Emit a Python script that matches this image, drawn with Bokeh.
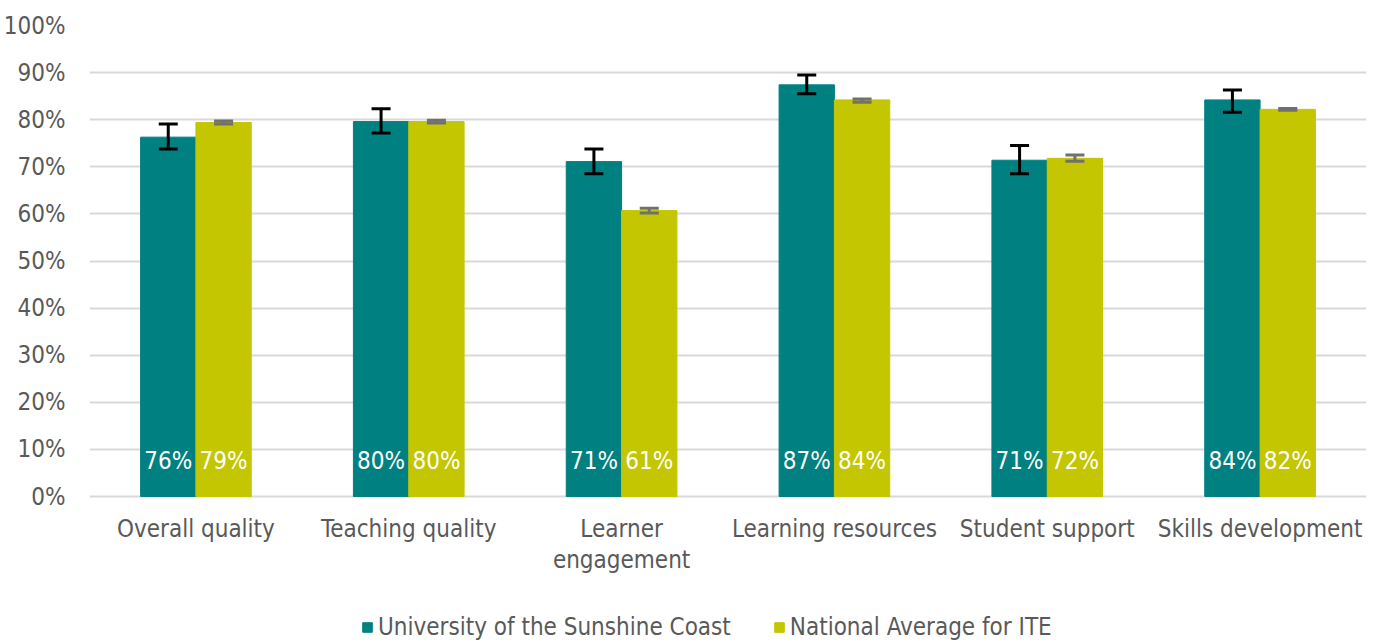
from bokeh.plotting import figure
from bokeh.models import (ColumnDataSource, FactorRange, Range1d, Whisker, TeeHead, Legend, LegendItem,
                          PrintfTickFormatter, FixedTicker)
from bokeh.transform import dodge
from bokeh.core.properties import value
from bokeh.embed import file_html
from bokeh.resources import INLINE

categories = ["Overall quality", "Teaching quality", "Learner engagement",
              "Learning resources", "Student support", "Skills development"]
category_labels = ["Overall quality", "Teaching quality", "Learner\nengagement",
                   "Learning resources", "Student support", "Skills development"]
usc = [76.3, 79.6, 71.1, 87.4, 71.4, 84.2]
usc_lo = [73.8, 77.2, 68.5, 85.5, 68.5, 81.6]
usc_hi = [79.1, 82.3, 73.8, 89.5, 74.5, 86.3]
nat = [79.4, 79.6, 60.7, 84.2, 71.8, 82.2]
nat_lo = [79.1, 79.3, 60.2, 83.7, 71.2, 82.0]
nat_hi = [79.7, 79.9, 61.2, 84.4, 72.5, 82.4]
series_names = ["University of the Sunshine Coast", "National Average for ITE"]
y_ticks = [0, 10, 20, 30, 40, 50, 60, 70, 80, 90, 100]

FONT = "DejaVu Sans Condensed"
TEAL = "#008080"
LIME = "#c3c600"
GREY = "#595959"

FRAME_H = 616
PX_PER_UNIT = 4.71
y_bottom = 100 - FRAME_H / PX_PER_UNIT

src = ColumnDataSource(dict(
    cat=categories, lab=category_labels, usc=usc, usc_lo=usc_lo, usc_hi=usc_hi,
    nat=nat, nat_lo=nat_lo, nat_hi=nat_hi,
    usc_lab=[f"{round(v)}%" for v in usc], nat_lab=[f"{round(v)}%" for v in nat],
))

p = figure(x_range=FactorRange(*categories), y_range=Range1d(y_bottom, 100),
           frame_width=1277, frame_height=FRAME_H,
           output_backend="svg", toolbar_location=None,
           min_border_left=80, min_border_right=2, min_border_top=25, min_border_bottom=0)
p.outline_line_color = None

off = 0.13
bw = 0.26
r1 = p.vbar(x=dodge("cat", -off, range=p.x_range), top="usc", bottom=0, width=bw, source=src,
            fill_color=TEAL, line_color=TEAL)
r2 = p.vbar(x=dodge("cat", off, range=p.x_range), top="nat", bottom=0, width=bw, source=src,
            fill_color=LIME, line_color=LIME)

w1 = Whisker(source=src, base=dodge("cat", -off, range=p.x_range), upper="usc_hi", lower="usc_lo",
             line_color="black", line_width=3, level="overlay",
             upper_head=TeeHead(size=19, line_width=3, line_color="black"),
             lower_head=TeeHead(size=19, line_width=3, line_color="black"))
w2 = Whisker(source=src, base=dodge("cat", off, range=p.x_range), upper="nat_hi", lower="nat_lo",
             line_color="#707070", line_width=3, level="overlay",
             upper_head=TeeHead(size=19, line_width=3, line_color="#707070"),
             lower_head=TeeHead(size=19, line_width=3, line_color="#707070"))
p.add_layout(w1)
p.add_layout(w2)

for col, dx in (("usc_lab", -off), ("nat_lab", off)):
    p.text(x=dodge("cat", dx, range=p.x_range), y=7.6, text=col, source=src,
           text_color="white", text_font=value(FONT), text_font_size="24px",
           text_align="center", text_baseline="middle")

# category labels under the baseline
p.text(x="cat", y=-3.9, text="lab", source=src, text_color=GREY, text_font=value(FONT),
       text_font_size="24px", text_align="center", text_baseline="top", text_line_height=1.1)

p.yaxis.ticker = FixedTicker(ticks=y_ticks)
p.yaxis.formatter = PrintfTickFormatter(format="%d%%")
p.yaxis.axis_line_color = None
p.yaxis.major_tick_line_color = None
p.yaxis.minor_tick_line_color = None
p.yaxis.major_label_text_font = FONT
p.yaxis.major_label_text_font_size = "24px"
p.yaxis.major_label_text_color = GREY
p.yaxis.major_label_standoff = 18

p.xaxis.visible = False
p.xgrid.grid_line_color = None
p.ygrid.grid_line_color = "#d9d9d9"
p.ygrid.grid_line_width = 2
p.ygrid.ticker = FixedTicker(ticks=y_ticks)

legend = Legend(items=[LegendItem(label=series_names[0], renderers=[r1]),
                       LegendItem(label=series_names[1], renderers=[r2])],
                orientation="horizontal", location=(272, 0),
                label_text_font=FONT, label_text_font_size="24px", label_text_color=GREY,
                glyph_width=12, glyph_height=12, spacing=42, label_standoff=5,
                border_line_color=None, background_fill_alpha=0, margin=0, padding=1)
p.add_layout(legend, "center")

open("out.html", "w").write(file_html(p, INLINE))
